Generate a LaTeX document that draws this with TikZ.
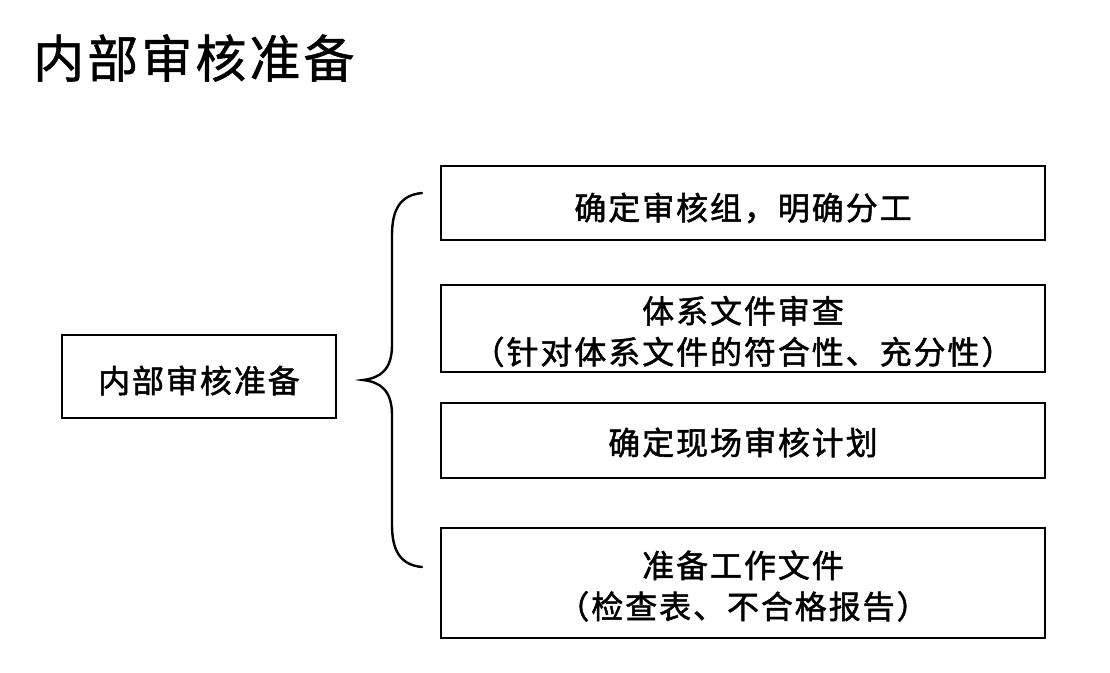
\documentclass[tikz,border=0pt]{standalone}
\usepackage{fontspec}
\newfontfamily\cjkbox[LetterSpace=6,FakeBold=1.5]{Noto Sans CJK SC}
\newfontfamily\cjktitle[LetterSpace=6,FakeBold=1]{Noto Sans CJK SC}
\begin{document}
\begin{tikzpicture}[x=1pt,y=-1pt,
  box/.style={draw=black, line width=2.8pt, inner sep=0pt},
  rbox/.style={box, minimum width=604pt},
  txt/.style={inner sep=0pt, align=center, text=black,
    font=\cjkbox\fontsize{32}{41}\selectfont},
  bracestyle/.style={draw=black, line width=2.4pt, line cap=round}]
\useasboundingbox (0,0) rectangle (1110,672);
\fill[white] (0,0) rectangle (1110,672);
\node[anchor=west, inner sep=0pt, font=\cjktitle\fontsize{51}{60}\selectfont] (title) at (33,58) {内部审核准备};
\node[box, minimum width=274pt, minimum height=83pt] (main) at (199,376.5) {};
\node[txt] (tm) at ([yshift=-4pt]main.center) {内部审核准备};
\node[rbox, minimum height=74pt] (b1) at (743,203) {};
\node[txt] (t1) at ([yshift=-5pt]b1.center) {确定审核组，明确分工};
\node[rbox, minimum height=87pt] (b2) at (743,328.5) {};
\node[txt] (t2) at ([yshift=-3pt]b2.center) {体系文件审查\\（针对体系文件的符合性、充分性）};
\node[rbox, minimum height=75pt] (b3) at (743,440.5) {};
\node[txt] (t3) at ([yshift=-2pt]b3.center) {确定现场审核计划};
\node[rbox, minimum height=110pt] (b4) at (743,583) {};
\node[txt] (t4) at ([yshift=-3pt]b4.center) {准备工作文件\\（检查表、不合格报告）};
\coordinate (btop) at (422,193);
\coordinate (btip) at (363,380);
\coordinate (bbot) at (422,567);
\draw[bracestyle] (btop) .. controls (400,195) and (392,210) .. (392,235)
  -- (392,345) .. controls (392,370) and (380,378) .. (btip)
  .. controls (380,382) and (392,390) .. (392,415)
  -- (392,525) .. controls (392,550) and (400,565) .. (bbot);
\end{tikzpicture}
\end{document}
